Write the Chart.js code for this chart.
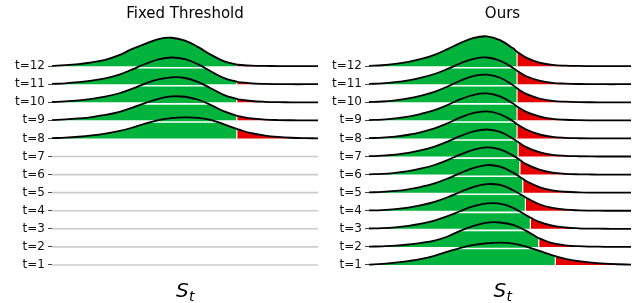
<!DOCTYPE html>
<html>
<head>
<meta charset="utf-8">
<script src="https://cdn.jsdelivr.net/npm/chart.js@4.4.1/dist/chart.umd.min.js"></script>
<style>
  html, body { margin: 0; padding: 0; background: #fff; }
  #wrap { position: relative; width: 636px; height: 303px; }
  #c1 { position: absolute; left: 0; top: 0; }
  #c2 { position: absolute; left: 318px; top: 0; }
</style>
</head>
<body>
<div id="wrap">
  <canvas id="c1" width="318" height="303"></canvas>
  <canvas id="c2" width="318" height="303"></canvas>
</div>
<script>
// ---- data ----
const S_GRID = [0,5,10,15,20,25,30,35,40,45,50,55,60,65,70,75,80,85,90,95,100];
const TICK_LABELS = ['t=1','t=2','t=3','t=4','t=5','t=6','t=7','t=8','t=9','t=10','t=11','t=12'];
const PANEL_TITLES = ['Fixed Threshold', 'Ours'];

// Fixed threshold panel: only t=8..12 have a distribution
const FIXED_ROWS = [8, 9, 10, 11, 12];
const fixedT8  = [0.3,0.8,1.7,3,4.8,7.3,10.7,14.8,18.3,20.4,21,20.6,18.4,13.8,9,5.2,2.9,1.5,0.7,0.3,0.1];
const fixedT9  = [0.3,0.9,1.9,3.3,5.4,8.3,12.5,17.3,21.6,23.9,23.6,20.6,15,8.7,4.2,1.9,0.8,0.3,0.1,0,0];
const fixedT10 = [0.3,0.9,1.9,3.4,5.6,8.8,13.4,18.6,23,25,24.3,20.2,13.6,7,3,1.3,0.5,0.15,0,0,0];
const fixedT11 = [0.3,0.9,2,3.6,5.9,9.4,14.6,20.2,24.8,26.7,25,19.8,12.4,5.8,2.2,0.8,0.3,0.1,0,0,0];
const fixedT12 = [0.3,1,2.1,3.8,6.3,10.7,17,22.2,27,28.4,25.5,19,11,4.5,1.4,0.5,0.2,0.1,0,0,0];
const FIXED_THRESHOLD = 69.5;
const fixedHeightAtThreshold = [9.5, 4.6, 3.4, 2.5, 1.6];

// Ours panel: t=1..12
const oursT1  = [0.4,1.1,2.3,3.9,6,9.2,13.3,17.2,20,21.7,22.3,21.4,18.3,14,9.6,6.2,3.9,2.3,1.3,0.7,0.35];
const oursT2  = [0.2,0.6,1.2,2.4,4,6.3,10.4,16.3,21,24.3,24.4,22,16,8.5,3.8,1.6,0.7,0.3,0.1,0,0];
const oursT3  = [0.3,0.6,1.5,3,5.2,8.3,12.6,17.8,22.6,25.4,25.2,21,13.5,7,3.2,1.3,0.5,0.2,0.05,0,0];
const oursT4  = [0.3,0.7,1.6,3.2,5.6,8.9,13.5,19,23.9,26.6,25.8,20.5,13,6.5,2.8,1.1,0.4,0.15,0,0,0];
const oursT5  = [0.3,0.7,1.7,3.4,5.9,9.3,14.1,19.8,24.8,27.6,26,20,11.6,5.5,2.3,0.9,0.35,0.1,0,0,0];
const oursT6  = [0.3,0.7,1.8,3.5,6.1,9.6,14.5,20.2,25,27.3,25.3,19,10.5,5,2,0.8,0.3,0.1,0,0,0];
const oursT7  = [0.3,0.8,1.9,3.6,6.3,9.9,14.9,20.6,25.2,27,24.6,17.8,9.4,4.3,1.7,0.7,0.25,0.05,0,0,0];
const oursT8  = [0.3,0.8,1.9,3.7,6.4,10.1,15.2,21,25.5,27,24.2,17.2,8.9,4,1.5,0.6,0.2,0.05,0,0,0];
const oursT9  = [0.3,0.8,2,3.8,6.6,10.3,15.4,21.2,25.6,27,24,16.8,8.5,4,1.5,0.6,0.2,0.05,0,0,0];
const oursT10 = [0.3,0.8,2,3.9,6.7,10.5,15.8,21.8,26.3,27.7,24.5,17,8.4,3.8,1.4,0.6,0.2,0.05,0,0,0];
const oursT11 = [0.3,0.8,2,3.8,6.5,10.2,15.3,21,25.4,26.7,23.5,16.3,8,3.7,1.4,0.6,0.2,0.05,0,0,0];
const oursT12 = [0.3,0.9,2.2,4.2,7.2,11.3,17,23.3,28.3,29.8,26,17.8,8.5,3.5,1.3,0.5,0.2,0.05,0,0,0];
const OURS_THRESHOLDS = [71.1,64.8,61.6,59.7,58.7,57.6,56.9,56.5,56.5,56.5,56.5,56.5];
const oursHeightAtThreshold = [8.8,8.7,11.2,13.4,13.9,14.7,14.4,14.3,13.8,14,13.5,14.5];

// ---- styling ----
const GREEN = '#00b33c';
const RED = '#e60000';
const DENSITY_TO_ROW = 1 / 18.07;
const FONT = '"DejaVu Sans", "Liberation Sans", sans-serif';

function ridgeDatasets(t, dens, thr, hThr) {
  const pts = S_GRID.map((x, i) => ({ x, y: t + dens[i] * DENSITY_TO_ROW }));
  const thrPt = { x: thr, y: t + hThr * DENSITY_TO_ROW };
  const below = pts.filter(p => p.x < thr).concat([thrPt]);
  const aboveOnly = pts.filter(p => p.x > thr);
  const above = [thrPt].concat(aboveOnly);
  const all = below.concat(aboveOnly);
  const x0 = S_GRID[0], x1 = S_GRID[S_GRID.length - 1];
  return [
    { data: below, fill: { value: t }, backgroundColor: GREEN, borderWidth: 0, borderColor: 'rgba(0,0,0,0)', order: 2 },
    { data: above, fill: { value: t }, backgroundColor: RED, borderWidth: 0, borderColor: 'rgba(0,0,0,0)', order: 2 },
    { data: [{ x: thr, y: t }, { x: thr, y: thrPt.y }], borderColor: '#ffffff', borderWidth: 1.2, fill: false, order: 1, tension: 0 },
    { data: [{ x: x0, y: t }, { x: x1, y: t }], borderColor: '#ffffff', borderWidth: 1.6, fill: false, order: 1, tension: 0, shiftDown: 1.6 },
    { data: all, borderColor: '#000000', borderWidth: 1.8, fill: false, order: 0 }
  ];
}

function emptyRow(t) {
  return { data: [{ x: S_GRID[0], y: t }, { x: S_GRID[S_GRID.length - 1], y: t }],
           borderColor: '#cccccc', borderWidth: 1.6, fill: false, order: 0, tension: 0 };
}

// shifts the white separator strip just below each ridge baseline
const shiftPlugin = {
  id: 'shiftStrip',
  beforeDatasetDraw(chart, args) {
    const ds = chart.data.datasets[args.index];
    if (ds.shiftDown) { chart.ctx.save(); chart.ctx.translate(0, ds.shiftDown); }
  },
  afterDatasetDraw(chart, args) {
    const ds = chart.data.datasets[args.index];
    if (ds.shiftDown) chart.ctx.restore();
  }
};

const stLabel = {
  id: 'stLabel',
  afterDraw(chart) {
    const { ctx, chartArea } = chart;
    const cx = (chartArea.left + chartArea.right) / 2;
    const yb = chartArea.bottom + 23;
    ctx.save();
    ctx.fillStyle = '#000';
    ctx.textAlign = 'left';
    ctx.textBaseline = 'alphabetic';
    ctx.font = 'italic 20px ' + FONT;
    const wS = ctx.measureText('S').width;
    ctx.font = 'italic 14px ' + FONT;
    const wT = ctx.measureText('t').width;
    const x0 = cx - (wS + wT) / 2;
    ctx.font = 'italic 20px ' + FONT;
    ctx.fillText('S', x0, yb);
    ctx.font = 'italic 14px ' + FONT;
    ctx.fillText('t', x0 + wS + 0.5, yb + 3.5);
    ctx.restore();
  }
};

function makeChart(canvasId, datasets, title, axisWidth, xMax) {
  return new Chart(document.getElementById(canvasId), {
    type: 'line',
    data: { datasets },
    options: {
      responsive: false,
      animation: false,
      devicePixelRatio: 1,
      layout: { padding: { left: 0, right: 0, top: 0, bottom: 29 } },
      elements: {
        point: { radius: 0, hoverRadius: 0 },
        line: { tension: 0.4, borderCapStyle: 'butt', borderJoinStyle: 'round' }
      },
      plugins: {
        legend: { display: false },
        tooltip: { enabled: false },
        title: {
          display: true, text: title, fullSize: false, color: '#000',
          font: { family: FONT, size: 15, weight: 'normal' },
          padding: { top: 5.5, bottom: 6.5 }
        }
      },
      scales: {
        x: { type: 'linear', min: 0, max: xMax, display: false },
        y: {
          type: 'linear', min: 0.5, max: 14,
          afterFit(scale) { scale.width = axisWidth; },
          afterBuildTicks(scale) { scale.ticks = TICK_LABELS.map((_, i) => ({ value: i + 1 })); },
          border: { display: false },
          grid: { display: true, drawOnChartArea: false, drawTicks: true, tickLength: 4, tickColor: '#444', tickWidth: 1 },
          ticks: {
            padding: 3, color: '#111', font: { family: FONT, size: 12 },
            callback: (v) => TICK_LABELS[Math.round(v) - 1]
          }
        }
      }
    },
    plugins: [shiftPlugin, stLabel]
  });
}

// Left panel datasets (t=1 first so lower rows are drawn in front)
const fixedDens = [fixedT8, fixedT9, fixedT10, fixedT11, fixedT12];
let leftSets = [];
for (let t = 1; t <= 12; t++) {
  const k = FIXED_ROWS.indexOf(t);
  if (k === -1) leftSets.push(emptyRow(t));
  else leftSets = leftSets.concat(ridgeDatasets(t, fixedDens[k], FIXED_THRESHOLD, fixedHeightAtThreshold[k]));
}

const oursDens = [oursT1, oursT2, oursT3, oursT4, oursT5, oursT6, oursT7, oursT8, oursT9, oursT10, oursT11, oursT12];
let rightSets = [];
for (let t = 1; t <= 12; t++) {
  rightSets = rightSets.concat(ridgeDatasets(t, oursDens[t - 1], OURS_THRESHOLDS[t - 1], oursHeightAtThreshold[t - 1]));
}

makeChart('c1', leftSets, PANEL_TITLES[0], 52, 100);
makeChart('c2', rightSets, PANEL_TITLES[1], 51, 101.9);
</script>
</body>
</html>
